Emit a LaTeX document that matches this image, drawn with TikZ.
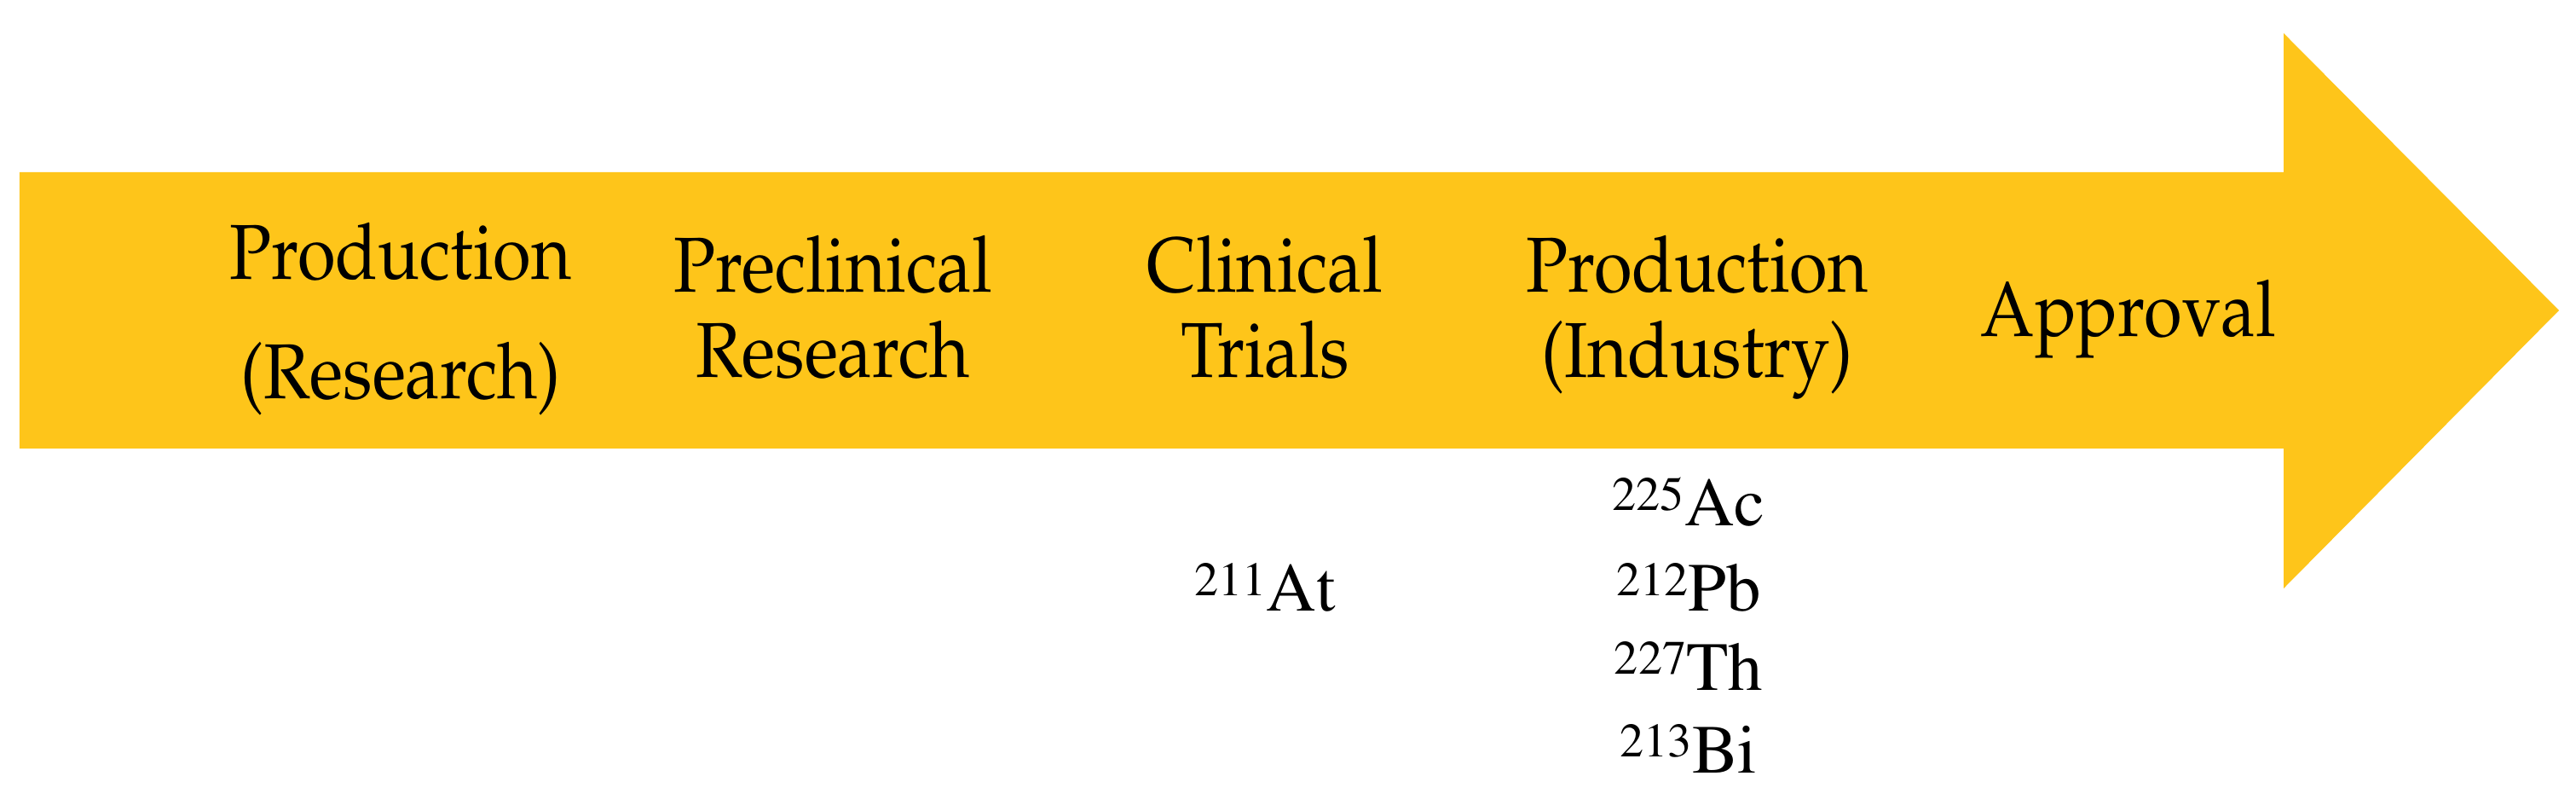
\documentclass[tikz,border=0pt]{standalone}
\usepackage[T1]{fontenc}
\usepackage{graphicx}
\definecolor{arrowyellow}{RGB}{254,197,26}
\newcommand{\isotope}[2]{\raisebox{5.4pt}{\fontsize{16}{16}\selectfont #1}#2}
\newcommand{\narrowtext}[1]{\scalebox{0.89}[1]{#1}}
\begin{document}
\begin{tikzpicture}[
  stage/.style={anchor=base, inner sep=0pt, font=\fontfamily{ppl}\fontsize{26}{30}\selectfont},
  iso/.style={anchor=base, inner sep=0pt, font=\fontfamily{ptm}\fontsize{23}{26}\selectfont},
  bigarrow/.style={fill=arrowyellow, draw=none}
]
\useasboundingbox (0,0) rectangle (30.22,9.44);
\fill[white] (0,0) rectangle (30.22,9.44);
% arrow
\coordinate (bl) at (0.23,4.18);
\coordinate (tl) at (0.23,7.42);
\coordinate (tr) at (26.79,7.42);
\coordinate (ht) at (26.79,9.05);
\coordinate (tip) at (30.02,5.80);
\coordinate (hb) at (26.79,2.54);
\coordinate (br) at (26.79,4.18);
\path[bigarrow] (bl) -- (tl) -- (tr) -- (ht) -- (tip) -- (hb) -- (br) -- cycle;
% stages
\node[stage] (pr1) at (4.70,6.16) {\narrowtext{Production}};
\node[stage] (pr2) at (4.70,4.76) {\narrowtext{(Research)}};
\node[stage] (pc1) at (9.77,6.01) {\narrowtext{Preclinical}};
\node[stage] (pc2) at (9.77,5.01) {\narrowtext{Research}};
\node[stage] (cl1) at (14.84,6.01) {\narrowtext{Clinical}};
\node[stage] (cl2) at (14.84,5.01) {\narrowtext{Trials}};
\node[stage] (pi1) at (19.91,6.01) {\narrowtext{Production}};
\node[stage] (pi2) at (19.91,5.01) {\narrowtext{(Industry)}};
\node[stage] (ap) at (24.97,5.49) {\narrowtext{Approval}};
% isotopes
\node[iso] (at) at (14.84,2.27) {\isotope{211}{At}};
\node[iso] (ac) at (19.81,3.27) {\isotope{225}{Ac}};
\node[iso] (pb) at (19.81,2.27) {\isotope{212}{Pb}};
\node[iso] (th) at (19.81,1.35) {\isotope{227}{Th}};
\node[iso] (bi) at (19.81,0.38) {\isotope{213}{Bi}};
\end{tikzpicture}
\end{document}
